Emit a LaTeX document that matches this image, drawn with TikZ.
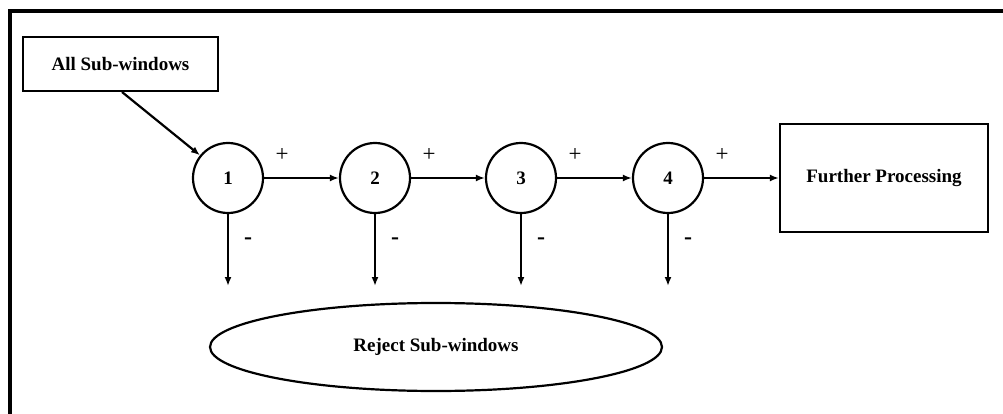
\documentclass[tikz,border=0pt]{standalone}
\usepackage{fontspec}
\setmainfont{Liberation Serif}
\usetikzlibrary{arrows.meta,shapes.geometric}
\begin{document}
\begin{tikzpicture}[x=1pt,y=-1pt,
  conn/.style={line width=2.2pt,-{Latex[length=9pt,width=7pt]}},
  stage/.style={circle,draw,line width=2.2pt,minimum size=70pt,inner sep=0pt,font=\fontsize{19}{19}\selectfont\bfseries},
  rectbox/.style={rectangle,draw,line width=2.2pt,inner sep=0pt,font=\fontsize{19}{19}\selectfont\bfseries},
  plus/.style={font=\fontsize{23}{23}\selectfont},
  minus/.style={font=\fontsize{24}{24}\selectfont\bfseries}
]
\useasboundingbox (0,0) rectangle (1003,414);
\draw[line width=3.5pt] (10,414) -- (10,11) -- (1003,11);
\node[rectbox,minimum width=195pt,minimum height=54pt] (all) at (120.5,64) {All Sub-windows};
\node[stage] (s1) at (228,178) {1};
\node[stage] (s2) at (375,178) {2};
\node[stage] (s3) at (521,178) {3};
\node[stage] (s4) at (668,178) {4};
\node[rectbox,minimum width=208pt,minimum height=108pt] (fp) at (884,178) {Further Processing};
\node[ellipse,draw,line width=2.2pt,minimum width=452pt,minimum height=88pt,inner sep=0pt,font=\fontsize{19}{19}\selectfont\bfseries] (rej) at (436,347) {Reject Sub-windows};
\coordinate (allout) at (122,92);
\draw[conn] (allout) -- (s1);
\draw[conn] (s1) -- (s2);
\draw[conn] (s2) -- (s3);
\draw[conn] (s3) -- (s4);
\draw[conn] (s4) -- (fp);
\foreach \i/\x in {1/228,2/375,3/521,4/668}{
  \coordinate (d\i) at (\x,286);
  \draw[conn] (s\i.south) -- (d\i);
  \node[plus] (p\i) at (\x+54,155) {+};
  \node[minus] (m\i) at (\x+20,241) {-};
}
\end{tikzpicture}
\end{document}
